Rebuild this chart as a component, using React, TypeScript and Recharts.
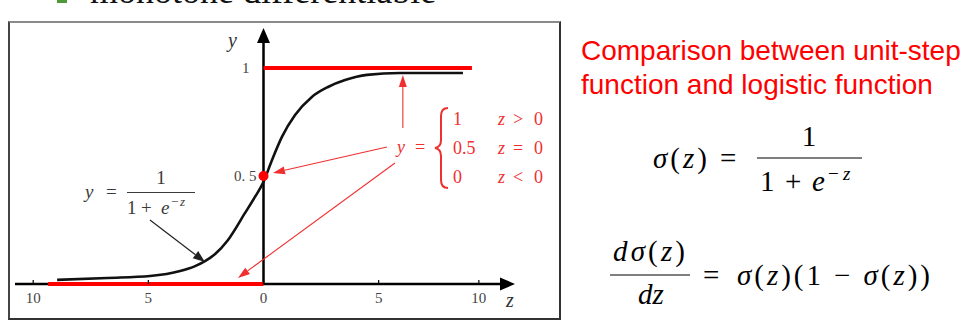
import React from 'react';
import { ComposedChart, Line, XAxis, YAxis, ReferenceLine, ReferenceDot } from 'recharts';

// logistic curve, sampled along z
const curveZ = [-8.96, -6.79, -4.93, -3.62, -2.97, -2.54, -2.1, -1.54, -0.8, -0.37, -0.02, 0.37, 0.8, 1.37, 2.1, 2.8, 3.54, 4.49, 5.92, 8.66];
const curveY = [0.019, 0.028, 0.037, 0.06, 0.083, 0.106, 0.139, 0.204, 0.329, 0.403, 0.468, 0.574, 0.681, 0.782, 0.866, 0.912, 0.944, 0.968, 0.977, 0.977];

// unit-step function, left and right pieces
const stepLowZ = [-9.35, 0];
const stepLowY = [0, 0];
const stepHighZ = [0, 9.05];
const stepHighY = [1, 1];

// axis ticks (labels are printed without sign)
const zTicks = [-10, -5, 0, 5, 9.35];
const zTickLabels = ['10', '5', '0', '5', '10'];

const zDomain: [number, number] = [-10.79, 10.92];
const yDomain: [number, number] = [0, 1.185];

// annotation arrows in (z, y) space: [from, to]
const blackArrow = [{ z: -4.93, y: 0.296 }, { z: -2.54, y: 0.102 }];
const redArrows = [
  [{ z: 6.05, y: 0.722 }, { z: 6.05, y: 0.968 }],
  [{ z: 5.36, y: 0.634 }, { z: 0.41, y: 0.514 }],
  [{ z: 5.71, y: 0.56 }, { z: -1.11, y: 0.028 }],
];

const toRows = (zs: number[], ys: number[]) => zs.map((z, i) => ({ z, y: ys[i] }));
const toSegment = (zs: number[], ys: number[]) => zs.map((z, i) => ({ x: z, y: ys[i] }));
const curve = toRows(curveZ, curveY);

const SERIF = '"Liberation Serif", "Times New Roman", serif';
const SANS = '"Liberation Sans", Arial, sans-serif';
const RED = '#ff0000';
const NOTE_RED = '#f03030';

const arrow = (color: string, width: number, headLen: number, headW: number) => (p: any) => {
  const { x1, y1, x2, y2 } = p;
  if ([x1, y1, x2, y2].some((v) => typeof v !== 'number' || isNaN(v))) return null;
  const a = Math.atan2(y2 - y1, x2 - x1);
  const bx = x2 - headLen * Math.cos(a);
  const by = y2 - headLen * Math.sin(a);
  const nx = (-Math.sin(a) * headW) / 2;
  const ny = (Math.cos(a) * headW) / 2;
  return (
    <g>
      <line x1={x1} y1={y1} x2={bx} y2={by} stroke={color} strokeWidth={width} />
      <polygon points={`${x2},${y2} ${bx + nx},${by + ny} ${bx - nx},${by - ny}`} fill={color} />
    </g>
  );
};

const ZTick = (props: any) => {
  const { x, y, payload } = props;
  const i = zTicks.indexOf(payload.value);
  return (
    <g>
      <line x1={x} x2={x} y1={y} y2={y - 4} stroke="#000" strokeWidth={1.2} />
      <text x={x} y={y + 19} textAnchor="middle" fontSize={15} fontFamily={SERIF} fill="#444">
        {zTickLabels[i]}
      </text>
    </g>
  );
};

const SigmoidPlot = () => (
  <ComposedChart width={560} height={320} margin={{ top: 28, right: 45, bottom: 6, left: 15 }}>
    <XAxis
      dataKey="z"
      type="number"
      domain={zDomain}
      ticks={zTicks}
      interval={0}
      axisLine={false}
      tickLine={false}
      tickSize={0}
      tickMargin={0}
      height={30}
      tick={<ZTick />}
    />
    <YAxis type="number" domain={yDomain} hide width={0} />

    {/* coordinate axes */}
    <ReferenceLine
      segment={[{ x: zDomain[0], y: 0 }, { x: zDomain[1], y: 0 }]}
      ifOverflow="visible"
      shape={arrow('#000', 2.5, 15, 13)}
    />
    <ReferenceLine
      segment={[{ x: 0, y: 0 }, { x: 0, y: yDomain[1] }]}
      ifOverflow="visible"
      shape={arrow('#000', 2.5, 15, 13)}
    />

    <Line data={curve} dataKey="y" type="monotone" stroke="#111" strokeWidth={2.6} dot={false} isAnimationActive={false} />

    {/* unit-step pieces, laid over the axis */}
    <ReferenceLine segment={toSegment(stepLowZ, stepLowY)} ifOverflow="visible" stroke={RED} strokeWidth={4} />
    <ReferenceLine segment={toSegment(stepHighZ, stepHighY)} ifOverflow="visible" stroke={RED} strokeWidth={4} />

    <ReferenceLine
      segment={blackArrow.map((p) => ({ x: p.z, y: p.y }))}
      ifOverflow="visible"
      shape={arrow('#222', 1.2, 12, 9)}
    />
    {redArrows.map((seg, i) => (
      <ReferenceLine
        key={i}
        segment={seg.map((p) => ({ x: p.z, y: p.y }))}
        ifOverflow="visible"
        shape={arrow(NOTE_RED, 1.1, 12, 8)}
      />
    ))}

    <ReferenceDot
      x={0}
      y={1}
      r={0}
      ifOverflow="visible"
      label={{ value: '1', position: 'left', offset: 14, fill: '#444', fontSize: 15, fontFamily: SERIF }}
    />
    <ReferenceDot
      x={0}
      y={0.5}
      r={5}
      fill={RED}
      stroke="none"
      ifOverflow="visible"
      label={{ value: '0. 5', position: 'left', offset: 2, fill: '#444', fontSize: 15, fontFamily: SERIF }}
    />
  </ComposedChart>
);

const Notes = () => (
  <svg width={962} height={327} style={{ position: 'absolute', left: 0, top: 0, pointerEvents: 'none' }}>
    {/* bullet line above the figure */}
    <rect x={57} y={-8} width={10} height={11} fill="#4e9a3a" />
    <text x={90} y={3} fontSize={36} fontFamily={SERIF} fill="#111">monotone differentiable</text>

    {/* axis names */}
    <text x={228} y={47} fontSize={20} fontStyle="italic" fontFamily={SERIF} fill="#333">y</text>
    <text x={506} y={307} fontSize={20} fontStyle="italic" fontFamily={SERIF} fill="#333">z</text>

    {/* logistic formula label */}
    <g fill="#3a3a3a" fontFamily={SERIF} fontSize={19}>
      <text x={85} y={198} fontStyle="italic">y</text>
      <text x={106} y={198}>=</text>
      <text x={161} y={184} textAnchor="middle">1</text>
      <line x1={127} x2={195} y1={192.5} y2={192.5} stroke="#3a3a3a" strokeWidth={1.2} />
      <text x={127} y={214}>1</text>
      <text x={141} y={214}>+</text>
      <text x={161} y={214} fontStyle="italic">e</text>
      <text x={171} y={206} fontSize={13}>−</text>
      <text x={180} y={206} fontSize={13} fontStyle="italic">z</text>
    </g>

    {/* unit-step definition */}
    <g fill={NOTE_RED} fontFamily={SERIF} fontSize={18}>
      <text x={397} y={153} fontStyle="italic">y</text>
      <text x={415} y={153}>=</text>
      <path
        d="M 448 108 Q 441 108 441 116 L 441 140 Q 441 147 435 148 Q 441 149 441 156 L 441 180 Q 441 188 448 188"
        fill="none"
        stroke={NOTE_RED}
        strokeWidth={2}
      />
      <text x={453} y={125}>1</text>
      <text x={453} y={154}>0.5</text>
      <text x={453} y={183}>0</text>
      {[['>', 125], ['=', 154], ['<', 183]].map(([op, by]) => (
        <g key={op as string}>
          <text x={498} y={by as number} fontStyle="italic">z</text>
          <text x={513} y={by as number}>{op}</text>
          <text x={534} y={by as number}>0</text>
        </g>
      ))}
    </g>

    {/* right-hand caption and formulas */}
    <g fill={RED} fontFamily={SANS} fontSize={28}>
      <text x={581} y={60}>Comparison between unit-step</text>
      <text x={581} y={94}>function and logistic function</text>
    </g>

    <g fill="#000" fontFamily={SERIF} fontSize={29}>
      <text x={653} y={168} textLength={54} lengthAdjust="spacing">
        <tspan fontStyle="italic">σ</tspan>(<tspan fontStyle="italic">z</tspan>)
      </text>
      <text x={720} y={168}>=</text>
      <text x={809} y={146} textAnchor="middle">1</text>
      <line x1={757} x2={862} y1={158} y2={158} stroke="#000" strokeWidth={1.2} />
      <text x={760} y={191}>1</text>
      <text x={785} y={191}>+</text>
      <text x={812} y={191} fontStyle="italic">e</text>
      <text x={828} y={180} fontSize={19}>−</text>
      <text x={843} y={180} fontSize={19} fontStyle="italic">z</text>

      <text x={613} y={261} textLength={72} lengthAdjust="spacing">
        <tspan fontStyle="italic">d</tspan><tspan fontStyle="italic">σ</tspan>(<tspan fontStyle="italic">z</tspan>)
      </text>
      <line x1={610} x2={690} y1={275} y2={275} stroke="#000" strokeWidth={1.2} />
      <text x={651} y={304} fontStyle="italic" textAnchor="middle">dz</text>
      <text x={703} y={285}>=</text>
      <text x={737} y={285} textLength={193} lengthAdjust="spacing">
        <tspan fontStyle="italic">σ</tspan>(<tspan fontStyle="italic">z</tspan>)(1 − <tspan fontStyle="italic">σ</tspan>(<tspan fontStyle="italic">z</tspan>))
      </text>
    </g>
  </svg>
);

export default function App() {
  return (
    <div style={{ position: 'absolute', left: 0, top: 0, width: 962, height: 327, overflow: 'hidden', background: '#fff' }}>
      <div
        style={{
          position: 'absolute',
          left: 8,
          top: 21,
          width: 549,
          height: 295,
          borderTop: '2px solid #8a8a8a',
          borderLeft: '2px solid #444',
          borderRight: '2px solid #333',
          borderBottom: '2px solid #333',
        }}
      />
      <div style={{ position: 'absolute', left: 0, top: 0 }}>
        <SigmoidPlot />
      </div>
      <Notes />
    </div>
  );
}
